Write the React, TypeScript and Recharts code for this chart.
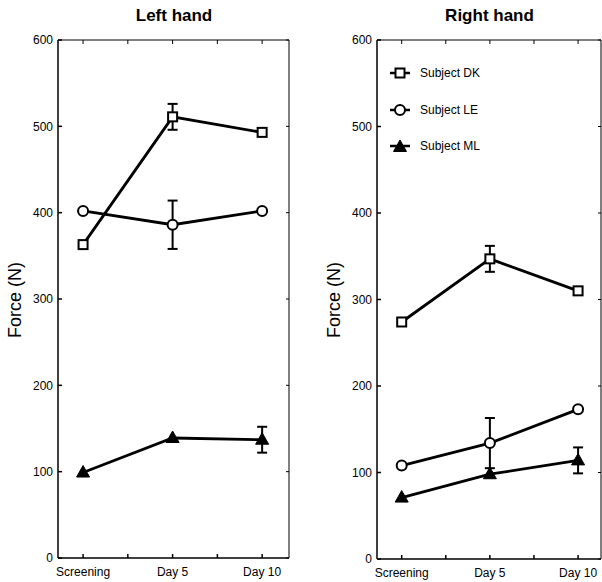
import React from 'react';
import { LineChart, Line, XAxis, YAxis, ErrorBar } from 'recharts';

const FONT = '"Liberation Sans", Arial, Helvetica, sans-serif';

// x positions (sessions) and their labels
const sessionX = [0, 5, 10];
const sessionLabels = ['Screening', 'Day 5', 'Day 10'];
const xTicks = [0, 2.5, 5, 7.5, 10];
const yTicks = [0, 100, 200, 300, 400, 500, 600];

// Left hand
const leftDK = [363, 511, 493];
const leftDKErr = [0, 15, 0];
const leftLE = [402, 386, 402];
const leftLEErr = [0, 28, 0];
const leftML = [99, 139, 137];
const leftMLErr = [0, 0, 15];

// Right hand
const rightDK = [274, 347, 310];
const rightDKErr = [0, 15, 0];
const rightLE = [108, 134, 173];
const rightLEErr = [0, 29, 0];
const rightML = [71, 98, 114];
const rightMLErr = [0, 0, 15];

const subjects = ['Subject DK', 'Subject LE', 'Subject ML'];

const buildRows = (dk: number[], dkE: number[], le: number[], leE: number[], ml: number[], mlE: number[]) =>
  sessionX.map((x, i) => ({ x, dk: dk[i], dkErr: dkE[i], le: le[i], leErr: leE[i], ml: ml[i], mlErr: mlE[i] }));

const SquareDot = (p: any) => {
  const { cx, cy } = p;
  if (cx == null || cy == null) return null;
  return <rect x={cx - 4.5} y={cy - 4.5} width={9} height={9} fill="#fff" stroke="#000" strokeWidth={2} />;
};
const CircleDot = (p: any) => {
  const { cx, cy } = p;
  if (cx == null || cy == null) return null;
  return <circle cx={cx} cy={cy} r={5} fill="#fff" stroke="#000" strokeWidth={2} />;
};
const TriDot = (p: any) => {
  const { cx, cy } = p;
  if (cx == null || cy == null) return null;
  return <path d={`M${cx},${cy - 7} L${cx + 6.5},${cy + 4.5} L${cx - 6.5},${cy + 4.5} Z`} fill="#000" stroke="#000" strokeWidth={1} />;
};

const xLabel = (v: number) => {
  const i = sessionX.indexOf(v);
  return i >= 0 ? sessionLabels[i] : '';
};

type PanelProps = {
  title: string;
  rows: any[];
  yAxisWidth: number;
  marginRight: number;
  xAxisHeight: number;
  xDomain: [number, number];
};

const Panel: React.FC<PanelProps> = ({ title, rows, yAxisWidth, marginRight, xAxisHeight, xDomain }) => (
  <div style={{ position: 'relative', width: 301, height: 582 }}>
    <LineChart width={301} height={582} data={rows} margin={{ top: 39, right: marginRight, bottom: 0, left: 0 }}>
      <XAxis
        dataKey="x"
        type="number"
        domain={xDomain}
        ticks={xTicks}
        allowDataOverflow
        tickFormatter={xLabel}
        height={xAxisHeight}
        tickSize={-4}
        tickMargin={13}
        stroke="#000"
        strokeWidth={1.5}
        tick={{ fill: '#000', fontSize: 12, fontFamily: FONT }}
      />
      <XAxis
        xAxisId="t"
        dataKey="x"
        type="number"
        orientation="top"
        domain={xDomain}
        ticks={xTicks}
        allowDataOverflow
        tickFormatter={() => ''}
        height={1}
        tickSize={-4}
        stroke="#000"
        strokeWidth={1}
      />
      <YAxis
        type="number"
        domain={[0, 600]}
        ticks={yTicks}
        width={yAxisWidth}
        tickSize={-4}
        tickMargin={9}
        stroke="#000"
        strokeWidth={1.5}
        tick={{ fill: '#000', fontSize: 12, fontFamily: FONT }}
        label={{
          content: () => (
            <text
              x={yAxisWidth - 37}
              y={300}
              transform={`rotate(-90 ${yAxisWidth - 37} 300)`}
              textAnchor="middle"
              fontSize={18}
              fontFamily={FONT}
              fill="#000"
            >
              Force (N)
            </text>
          ),
        }}
      />
      <YAxis
        yAxisId="r"
        orientation="right"
        type="number"
        domain={[0, 600]}
        ticks={yTicks}
        width={1}
        tickSize={-3}
        tickFormatter={() => ''}
        stroke="#000"
        strokeWidth={1}
      />
      {/* invisible series so the top and right frame axes are drawn */}
      <Line xAxisId="t" yAxisId="r" dataKey="dk" stroke="none" dot={false} activeDot={false} isAnimationActive={false} />
      <Line dataKey="dk" stroke="#000" strokeWidth={2.8} dot={<SquareDot />} activeDot={false} isAnimationActive={false}>
        <ErrorBar dataKey="dkErr" direction="y" width={5} stroke="#000" strokeWidth={2} />
      </Line>
      <Line dataKey="le" stroke="#000" strokeWidth={2.8} dot={<CircleDot />} activeDot={false} isAnimationActive={false}>
        <ErrorBar dataKey="leErr" direction="y" width={5} stroke="#000" strokeWidth={2} />
      </Line>
      <Line dataKey="ml" stroke="#000" strokeWidth={2.8} dot={<TriDot />} activeDot={false} isAnimationActive={false}>
        <ErrorBar dataKey="mlErr" direction="y" width={5} stroke="#000" strokeWidth={2} />
      </Line>
    </LineChart>
    <div
      style={{
        position: 'absolute',
        top: 6,
        left: yAxisWidth,
        width: 301 - yAxisWidth - marginRight,
        textAlign: 'center',
        fontFamily: FONT,
        fontWeight: 'bold',
        fontSize: 17,
        color: '#000',
      }}
    >
      {title}
    </div>
  </div>
);

const LegendIcon = ({ kind }: { kind: number }) => (
  <svg width={22} height={14} style={{ marginRight: 9 }}>
    <line x1={1} y1={7} x2={21} y2={7} stroke="#000" strokeWidth={2.5} />
    {kind === 0 && <SquareDot cx={11} cy={7} />}
    {kind === 1 && <CircleDot cx={11} cy={7} />}
    {kind === 2 && <TriDot cx={11} cy={8} />}
  </svg>
);

const App: React.FC = () => {
  const leftRows = buildRows(leftDK, leftDKErr, leftLE, leftLEErr, leftML, leftMLErr);
  const rightRows = buildRows(rightDK, rightDKErr, rightLE, rightLEErr, rightML, rightMLErr);

  return (
    <div style={{ position: 'absolute', left: 0, top: 0, width: 602, height: 582, background: '#fff', display: 'flex' }}>
      <Panel title="Left hand" rows={leftRows} yAxisWidth={58} marginRight={11} xAxisHeight={24} xDomain={[-1.4, 11.5]} />
      <div style={{ position: 'relative' }}>
        <Panel title="Right hand" rows={rightRows} yAxisWidth={76} marginRight={0} xAxisHeight={23} xDomain={[-1.4, 11.3]} />
        <div style={{ position: 'absolute', left: 88, top: 66, fontFamily: FONT, fontSize: 12, color: '#000' }}>
          {subjects.map((s, i) => (
            <div key={s} style={{ display: 'flex', alignItems: 'center', height: 14, marginBottom: 22.5 }}>
              <LegendIcon kind={i} />
              <span>{s}</span>
            </div>
          ))}
        </div>
      </div>
    </div>
  );
};

export default App;
